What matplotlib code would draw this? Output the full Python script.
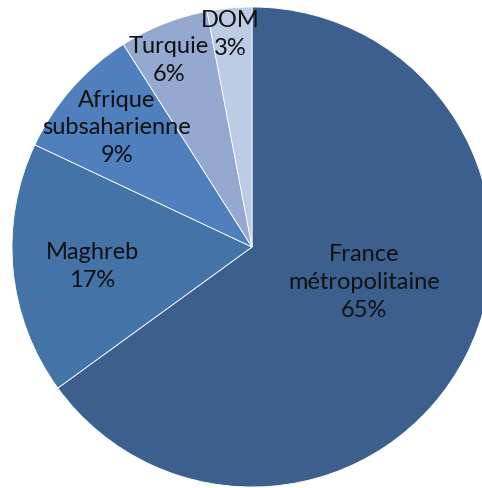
import numpy as np
import matplotlib
matplotlib.use("Agg")
import matplotlib.pyplot as plt

categories = ["France\nmétropolitaine", "Maghreb", "Afrique\nsubsaharienne", "Turquie", "DOM"]
shares = [65, 17, 9, 6, 3]
colors = ["#3C5F8E", "#4473A8", "#4F80BD", "#95A9D0", "#BECBE4"]

# label placement: radius (fraction of pie radius) and angle shift in degrees
label_r = [0.49, 0.67, 0.75, 0.85, 0.89]
label_shift = [9.5, 1.5, 0, 2.5, 0.5]

plt.rcParams['font.family'] = ['Lato', 'DejaVu Sans']

fig = plt.figure(figsize=(4.82, 4.88), dpi=100)
ax = fig.add_axes([0, 0, 1, 1])
wedges, _ = ax.pie(shares, colors=colors, startangle=90, counterclock=False,
                   radius=1, wedgeprops=dict(edgecolor="white", linewidth=0.6))

for w, cat, v, r, s in zip(wedges, categories, shares, label_r, label_shift):
    ang = np.deg2rad((w.theta1 + w.theta2) / 2 + s)
    ax.text(r * np.cos(ang), r * np.sin(ang), f"{cat}\n{v}%",
            ha="center", va="center", fontsize=17, color="#111111",
            linespacing=1.4)

ax.set_aspect("auto")
ax.set_xlim(-252 / 240, 230 / 240)
ax.set_ylim(-241 / 240, 247 / 240)
ax.axis("off")

fig.savefig("out.png", dpi=100)
